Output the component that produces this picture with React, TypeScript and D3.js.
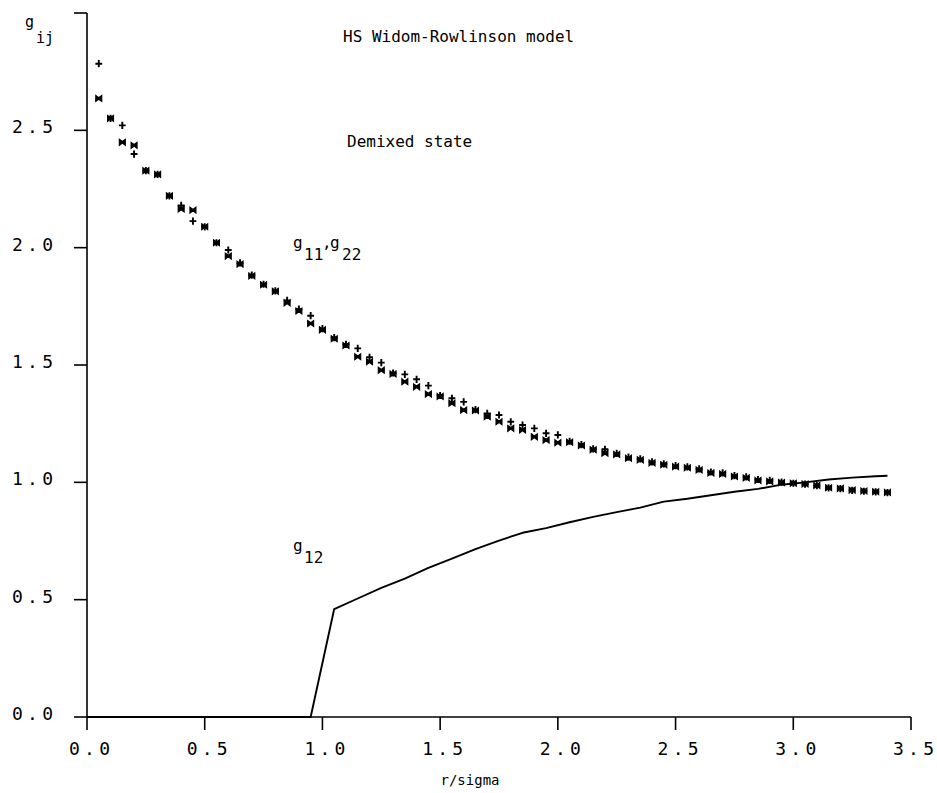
import React from "react";
import * as d3 from "d3";

// r/sigma grid of the simulated points
const rPoints = [
  0.05, 0.1, 0.15, 0.2, 0.25, 0.3, 0.35, 0.4, 0.45, 0.5,
  0.55, 0.6, 0.65, 0.7, 0.75, 0.8, 0.85, 0.9, 0.95, 1.0,
  1.05, 1.1, 1.15, 1.2, 1.25, 1.3, 1.35, 1.4, 1.45, 1.5,
  1.55, 1.6, 1.65, 1.7, 1.75, 1.8, 1.85, 1.9, 1.95, 2.0,
  2.05, 2.1, 2.15, 2.2, 2.25, 2.3, 2.35, 2.4, 2.45, 2.5,
  2.55, 2.6, 2.65, 2.7, 2.75, 2.8, 2.85, 2.9, 2.95, 3.0,
  3.05, 3.1, 3.15, 3.2, 3.25, 3.3, 3.35, 3.4,
];

// g11 ("+" markers)
const g11Values = [
  2.784, 2.551, 2.521, 2.399, 2.328, 2.312, 2.221, 2.18, 2.113, 2.089,
  2.021, 1.99, 1.935, 1.883, 1.844, 1.816, 1.775, 1.738, 1.71, 1.655,
  1.617, 1.588, 1.571, 1.533, 1.51, 1.466, 1.46, 1.439, 1.412, 1.37,
  1.358, 1.343, 1.31, 1.294, 1.287, 1.258, 1.244, 1.23, 1.209, 1.202,
  1.175, 1.161, 1.143, 1.141, 1.123, 1.107, 1.1, 1.087, 1.079, 1.071,
  1.066, 1.057, 1.044, 1.04, 1.029, 1.023, 1.012, 1.008, 1.001, 0.996,
  0.992, 0.986, 0.976, 0.973, 0.966, 0.962, 0.959, 0.956,
];

// g22 (bow-tie markers)
const g22Values = [
  2.636, 2.551, 2.449, 2.436, 2.328, 2.312, 2.221, 2.165, 2.16, 2.089,
  2.021, 1.964, 1.93, 1.88, 1.842, 1.814, 1.765, 1.73, 1.677, 1.65,
  1.612, 1.583, 1.535, 1.514, 1.478, 1.462, 1.429, 1.407, 1.376, 1.366,
  1.337, 1.308, 1.306, 1.28, 1.258, 1.23, 1.223, 1.194, 1.18, 1.169,
  1.171, 1.157, 1.139, 1.124, 1.119, 1.103, 1.096, 1.083, 1.075, 1.067,
  1.062, 1.053, 1.04, 1.036, 1.025, 1.019, 1.008, 1.004, 0.999, 0.996,
  0.993, 0.987, 0.977, 0.974, 0.967, 0.963, 0.96, 0.957,
];

// g12 (solid line)
const g12R = [
  0.0, 0.95, 1.05, 1.15, 1.25, 1.35, 1.45, 1.55, 1.65, 1.75, 1.85, 1.95,
  2.05, 2.15, 2.25, 2.35, 2.45, 2.55, 2.65, 2.75, 2.85, 2.95, 3.05, 3.15,
  3.25, 3.35, 3.4,
];
const g12Values = [
  0.0, 0.0, 0.46, 0.505, 0.55, 0.59, 0.635, 0.675, 0.715, 0.752, 0.785, 0.805,
  0.83, 0.853, 0.873, 0.892, 0.918, 0.93, 0.945, 0.96, 0.972, 0.99, 1.0, 1.012,
  1.02, 1.026, 1.028,
];

const xTicks = [0, 0.5, 1.0, 1.5, 2.0, 2.5, 3.0, 3.5];
const yTicks = [0, 0.5, 1.0, 1.5, 2.0, 2.5, 3.0];
const yTickLabels = ["0.0", "0.5", "1.0", "1.5", "2.0", "2.5", ""];
const xTickLabels = ["0.0", "0.5", "1.0", "1.5", "2.0", "2.5", "3.0", "3.5"];

const FONT = "'DejaVu Sans Mono', monospace";

export default function App() {
  const W = 937;
  const H = 793;
  const x = d3.scaleLinear().domain([0, 3.5]).range([87, 911]);
  const y = d3.scaleLinear().domain([0, 3]).range([717, 13]);

  const lineGen = d3
    .line<number>()
    .x((_, i) => x(g12R[i]))
    .y((d) => y(d));

  const plusPath = "M-3.4,0H3.4M0,-3.6V3.6";
  const bowPath = "M-3,-3L0,-0.8L3,-3V3L0,0.8L-3,3Z";

  return (
    <svg
      width={W}
      height={H}
      style={{ position: "absolute", left: 0, top: 0, background: "#fff" }}
    >
      <rect x={0} y={0} width={W} height={H} fill="#fff" />
      {/* axes */}
      <line x1={x(0)} x2={x(0)} y1={y(3)} y2={y(0)} stroke="#000" strokeWidth={1.6} />
      <line x1={x(0)} x2={x(3.5)} y1={y(0)} y2={y(0)} stroke="#000" strokeWidth={1.6} />
      {yTicks.map((t, i) => (
        <g key={"yt" + i}>
          <line x1={x(0) - 13} x2={x(0)} y1={y(t)} y2={y(t)} stroke="#000" strokeWidth={1.6} />
          {yTickLabels[i] && (
            <text
              x={12}
              y={y(t) + 3}
              fontFamily={FONT}
              fontSize={18}
              textLength={41}
              lengthAdjust="spacing"
              fill="#000"
            >
              {yTickLabels[i]}
            </text>
          )}
        </g>
      ))}
      {xTicks.map((t, i) => (
        <g key={"xt" + i}>
          <line x1={x(t)} x2={x(t)} y1={y(0)} y2={y(0) + 13} stroke="#000" strokeWidth={1.6} />
          <text
            x={x(t) - 18}
            y={755}
            fontFamily={FONT}
            fontSize={18}
            textLength={41}
            lengthAdjust="spacing"
            fill="#000"
          >
            {xTickLabels[i]}
          </text>
        </g>
      ))}
      <text x={470} y={785} textAnchor="middle" fontFamily={FONT} fontSize={14} fill="#000">
        r/sigma
      </text>

      {/* g12 line */}
      <path d={lineGen(g12Values) || ""} fill="none" stroke="#000" strokeWidth={1.9} strokeLinejoin="round" />

      {/* markers */}
      {rPoints.map((r, i) => (
        <path
          key={"b" + i}
          d={bowPath}
          transform={`translate(${x(r)},${y(g22Values[i])})`}
          fill="#000"
          stroke="#000"
          strokeWidth={1.1}
        />
      ))}
      {rPoints.map((r, i) => (
        <path
          key={"p" + i}
          d={plusPath}
          transform={`translate(${x(r)},${y(g11Values[i])})`}
          fill="none"
          stroke="#000"
          strokeWidth={1.9}
        />
      ))}

      {/* annotations */}
      <text fontFamily={FONT} fontSize={15} fill="#000">
        <tspan x={25} y={27}>g</tspan>
        <tspan x={36} y={43}>ij</tspan>
      </text>
      <text x={343} y={42} fontFamily={FONT} fontSize={16} fill="#000">
        HS Widom-Rowlinson model
      </text>
      <text x={347} y={147} fontFamily={FONT} fontSize={16} fill="#000">
        Demixed state
      </text>
      <text fontFamily={FONT} fontSize={16} fill="#000">
        <tspan x={293} y={248}>g</tspan>
        <tspan x={304} y={260}>11</tspan>
        <tspan x={322} y={248}>,</tspan>
        <tspan x={330} y={248}>g</tspan>
        <tspan x={342} y={260}>22</tspan>
      </text>
      <text fontFamily={FONT} fontSize={16} fill="#000">
        <tspan x={293} y={551}>g</tspan>
        <tspan x={304} y={563}>12</tspan>
      </text>
    </svg>
  );
}
